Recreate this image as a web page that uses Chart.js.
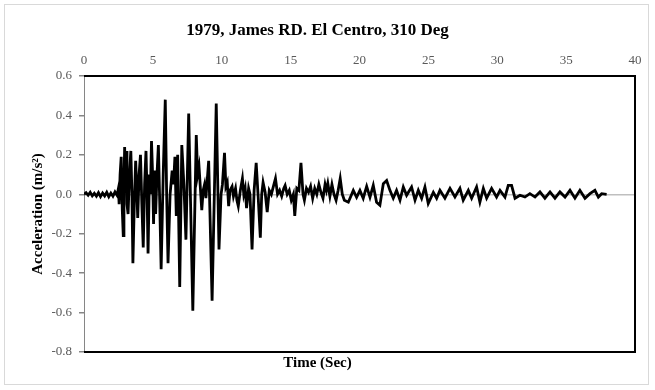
<!DOCTYPE html>
<html>
<head>
<meta charset="utf-8">
<script src="https://cdn.jsdelivr.net/npm/chart.js@4"></script>
<style>
  html, body { margin: 0; padding: 0; background: #fff; }
  #wrap { position: relative; width: 655px; height: 390px; }
  #frame { position: absolute; left: 4px; top: 4px; width: 645px; height: 381px;
           border: 1px solid #d9d9d9; box-sizing: border-box; pointer-events: none; }
</style>
</head>
<body>
<div id="wrap">
  <canvas id="quakeChart" width="655" height="390"></canvas>
  <div id="frame"></div>
</div>
<script>
// time in seconds
const times = [
  0, 0.15, 0.3, 0.45, 0.6, 0.75, 0.9, 1.05, 1.2, 1.35,
  1.5, 1.65, 1.8, 1.95, 2.1, 2.25, 2.4,
  2.5, 2.55, 2.62, 2.7, 2.78, 2.85, 2.9, 2.95, 3.0, 3.05,
  3.12, 3.2, 3.3, 3.4, 3.48, 3.55, 3.65, 3.75, 3.82, 3.9,
  4.0, 4.1, 4.2, 4.3, 4.4, 4.5, 4.58, 4.65, 4.75, 4.82,
  4.9, 4.98, 5.05, 5.12, 5.2, 5.3, 5.4, 5.5, 5.6, 5.75,
  5.9, 6.0, 6.1, 6.25, 6.4, 6.5, 6.6, 6.7, 6.8, 6.95,
  7.1, 7.25, 7.4, 7.6, 7.9, 8.15, 8.25, 8.35, 8.55, 8.65,
  8.75, 8.85, 9.05, 9.3, 9.6, 9.8, 9.95, 10.05,
  10.2, 10.3, 10.4, 10.5, 10.6, 10.75, 10.85, 11.0, 11.1, 11.2,
  11.35, 11.5, 11.6, 11.7, 11.8, 11.95, 12.05, 12.2, 12.35, 12.5,
  12.65, 12.8, 12.9, 13.0, 13.15, 13.3, 13.45, 13.6, 13.75, 13.9,
  14.05, 14.2, 14.35, 14.5, 14.6, 14.75, 14.9, 15.05, 15.2, 15.3,
  15.45, 15.6, 15.75, 15.9, 16.0, 16.15, 16.3, 16.45, 16.6, 16.75,
  16.9, 17.05, 17.2, 17.35, 17.5, 17.6, 17.7, 17.85, 18.0, 18.15,
  18.3, 18.45, 18.6, 18.75, 18.9,
  19.19, 19.55, 19.79, 20.03, 20.27, 20.52, 20.76, 21.0, 21.24, 21.48,
  21.73, 21.97, 22.21, 22.45, 22.69, 22.94, 23.18, 23.42, 23.78, 24.03,
  24.27, 24.51, 24.75, 24.99, 25.36, 25.6, 25.84, 26.2, 26.57, 26.93,
  27.29, 27.53, 27.9, 28.14, 28.5, 28.74, 28.99, 29.23, 29.59, 29.95,
  30.2, 30.56, 30.8, 31.04, 31.29, 31.65, 32.01, 32.37, 32.74, 33.1,
  33.46, 33.83, 34.19, 34.55, 34.92, 35.28, 35.64, 36.0, 36.37, 36.73,
  37.09, 37.34, 37.58, 37.94
];

// acceleration (m/s2)
const accel = [
  0, 0.008, -0.005, 0.01, -0.008, 0.005, -0.01, 0.008, -0.012, 0.006,
  -0.008, 0.01, -0.012, 0.006, -0.01, 0.012, -0.005,
  0.03, -0.05, 0.1, 0.19, -0.08, -0.21, 0.05, 0.24, 0.1, 0.22,
  -0.05, -0.1, 0.1, 0.22, 0, -0.35, -0.05, 0.17, 0.05, -0.12,
  0.1, 0.2, -0.05, -0.27, 0.05, 0.22, 0, -0.3, 0.1, 0,
  0.27, 0.1, -0.15, 0.12, -0.1, 0.1, 0.25, -0.05, -0.38, 0.1,
  0.48, 0, -0.35, 0, 0.12, 0.05, 0.19, -0.11, 0.2, -0.47,
  0.25, 0.05, -0.23, 0.41, -0.59, 0.3, 0.1, 0.14, -0.08, 0.02,
  0.05, -0.02, 0.17, -0.54, 0.46, -0.28, 0, 0.05,
  0.21, 0.04, 0.06, -0.06, 0.02, 0.04, -0.01, 0.03, -0.03, -0.06,
  0.02, 0.08, 0, 0.03, -0.07, 0.03, 0, -0.28, 0.02, 0.16,
  -0.02, -0.22, 0, 0.06, 0.01, -0.09, 0.02, 0, 0.04, 0.08,
  0, 0.02, -0.01, 0.03, 0.045, 0, 0.02, -0.03, 0, -0.11,
  0.03, 0.02, 0.16, 0, -0.03, 0.03, 0.01, 0.04, -0.02, 0.03,
  0, 0.05, 0.01, -0.02, 0.05, 0.02, 0.055, -0.01, 0.05, 0,
  -0.03, 0.02, 0.08, 0, -0.03,
  -0.04, 0.02, -0.015, 0.02, -0.02, 0.04, -0.015, 0.045, -0.04, -0.055,
  0.054, 0.07, 0.02, -0.02, 0.02, -0.03, 0.037, -0.005, 0.037, -0.03,
  0.02, -0.02, 0.037, -0.047, 0.01, -0.02, 0.02, -0.02, 0.03, -0.014,
  0.03, -0.03, 0.02, -0.02, 0.037, -0.04, 0.03, -0.02, 0.03, -0.014,
  0.02, -0.014, 0.045, 0.045, -0.02, -0.005, -0.014, 0.003, -0.014, 0.012,
  -0.02, 0.012, -0.02, 0.012, -0.014, 0.02, -0.02, 0.02, -0.02, 0.003,
  0.02, -0.014, 0.003, 0
];

const xTicks = [0, 5, 10, 15, 20, 25, 30, 35, 40];
const yTicks = [-0.8, -0.6, -0.4, -0.2, 0.0, 0.2, 0.4, 0.6];

const serif = "'Liberation Serif', 'Times New Roman', serif";

// black frame on top, right and bottom of the plot area
const plotFrame = {
  id: 'plotFrame',
  beforeDatasetsDraw(chart) {
    const {ctx, chartArea: a} = chart;
    ctx.save();
    ctx.strokeStyle = '#000';
    ctx.lineWidth = 2;
    ctx.beginPath();
    ctx.moveTo(a.left, a.top);
    ctx.lineTo(a.right, a.top);
    ctx.lineTo(a.right, a.bottom);
    ctx.lineTo(a.left, a.bottom);
    ctx.stroke();
    ctx.restore();
  }
};

const quakeConfig = {
  type: 'line',
  data: {
    datasets: [{
      data: times.map((t, i) => ({x: t, y: accel[i]})),
      borderColor: '#000',
      borderWidth: 2.8,
      pointRadius: 0,
      tension: 0,
      fill: false
    }]
  },
  options: {
    responsive: false,
    animation: false,
    layout: { padding: { left: 0, right: 20, top: 0, bottom: 0 } },
    scales: {
      x: {
        type: 'linear',
        position: 'top',
        min: 0,
        max: 40,
        afterBuildTicks: (scale) => { scale.ticks = xTicks.map(v => ({value: v})); },
        afterFit: (scale) => { scale.height = 35.6; },
        ticks: { color: '#595959', font: { family: serif, size: 13 }, padding: 8, maxRotation: 0 },
        grid: { display: false, drawTicks: false },
        border: { display: false }
      },
      y: {
        min: -0.8,
        max: 0.6,
        afterBuildTicks: (scale) => { scale.ticks = yTicks.map(v => ({value: v})); },
        afterFit: (scale) => { scale.width = 84; },
        ticks: {
          color: '#595959',
          font: { family: serif, size: 13 },
          padding: 7,
          callback: (v) => Number(v).toFixed(1)
        },
        grid: {
          color: (c) => (c.tick && Math.abs(c.tick.value) < 1e-9) ? '#bfbfbf' : 'rgba(0,0,0,0)',
          lineWidth: 1.5,
          tickColor: '#868686',
          tickLength: 5
        },
        border: { display: true, color: '#868686', width: 1 },
        title: {
          display: true,
          text: 'Acceleration (m/s²)',
          color: '#000',
          font: { family: serif, size: 15, weight: 'bold' },
          padding: { top: 29, bottom: 0 }
        }
      }
    },
    plugins: {
      legend: { display: false },
      tooltip: { enabled: false },
      title: {
        display: true,
        text: '1979, James RD. El Centro, 310 Deg',
        color: '#000',
        font: { family: serif, size: 17, weight: 'bold' },
        padding: { top: 20, bottom: 0 }
      },
      subtitle: {
        display: true,
        position: 'bottom',
        text: 'Time (Sec)',
        color: '#000',
        font: { family: serif, size: 15, weight: 'bold' },
        padding: { top: 2, bottom: 18 }
      }
    }
  },
  plugins: [plotFrame]
};

const quakeCanvas = document.getElementById('quakeChart');
const quakeChart = new Chart(quakeCanvas, quakeConfig);
</script>
</body>
</html>
